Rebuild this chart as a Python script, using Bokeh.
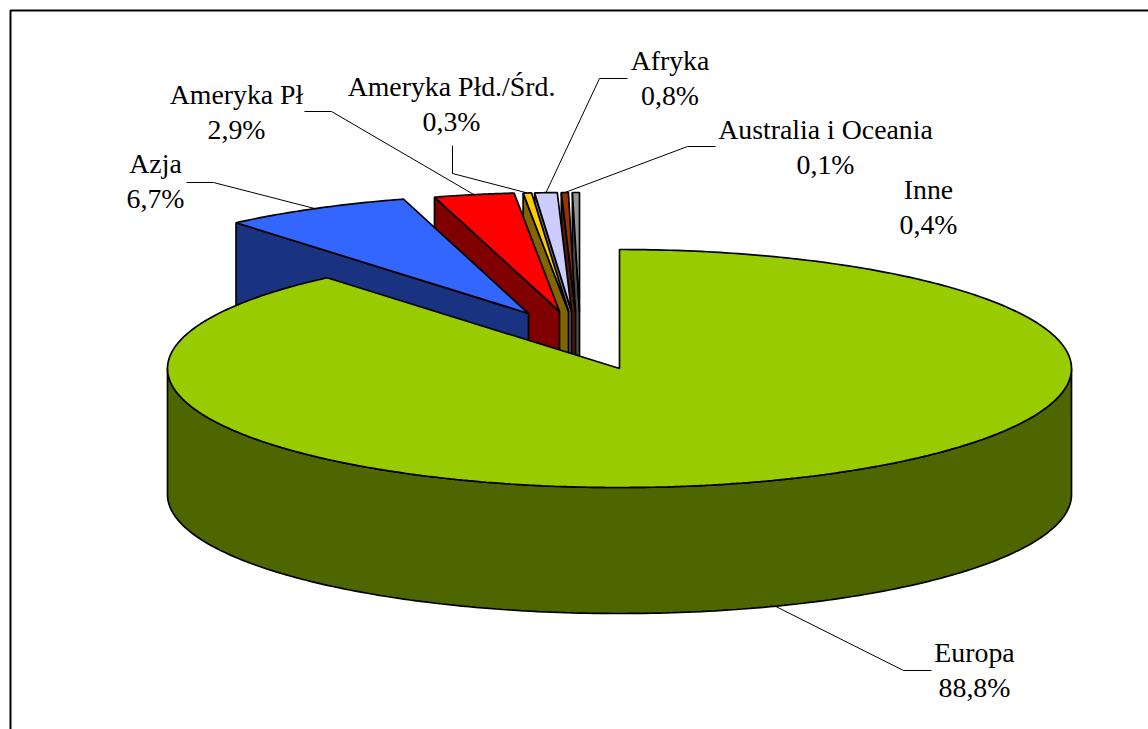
import numpy as np
from bokeh.embed import file_html
from bokeh.models import Range1d
from bokeh.plotting import figure
from bokeh.resources import INLINE

# Data
categories = ["Europa", "Azja", "Ameryka Pł", "Ameryka Płd./Śrd.", "Afryka", "Australia i Oceania", "Inne"]
share_labels = ["88,8%", "6,7%", "2,9%", "0,3%", "0,8%", "0,1%", "0,4%"]
# Slice sizes
shares = [88.8, 6.74, 2.86, 0.3, 0.8, 0.25, 0.25]

# Style
top_colors = ["#99CC00", "#3366FF", "#FF0000", "#FFCC00", "#CCCCFF", "#993300", "#969696"]
side_colors = ["#4D6600", "#1A3380", "#800000", "#806600", "#666680", "#4D1A00", "#4B4B4B"]

# Layout, in window pixels
W, H = 1148, 729
CX, CY, RX, RY, DEPTH = 619, 368, 452, 119, 126
explode_x = [0, -91, -60, -51, -48, -44, -40]
explode_y = [0, -55, -57, -57, -57, -57, -57]
label_x = [974, 155, 236, 451, 669.5, 825, 928]
label_y1 = [652, 163, 94, 86, 60, 129, 189]
LINE_GAP = 35
leader_start = [(931, 670), (186, 182), (304, 111), (452, 145), (627, 78), (715, 146), None]
leader_elbow = [(903, 670), (213, 182), (331, 111), (452, 173), (599, 78), (687, 146), None]

p = figure(width=W, height=H, output_backend="svg", toolbar_location=None,
           x_range=Range1d(0, W), y_range=Range1d(H, 0),
           min_border=0, outline_line_color=None)
p.axis.visible = False
p.grid.visible = False
p.background_fill_color = "white"
p.border_fill_color = "white"

# Frame running off the page on the right and below
p.line([10, 10, W], [H, 10, 10], line_color="black", line_width=2)


def rim(cx, cy, deg):
    a = np.radians(deg)
    return cx + RX * np.sin(a), cy - RY * np.cos(a)


edges = np.cumsum([0] + shares) / sum(shares) * 360.0
LW = 1.7

# Leader lines sit below the slices
for i, start in enumerate(leader_start):
    if start is None:
        continue
    mid = (edges[i] + edges[i + 1]) / 2
    mx, my = rim(CX + explode_x[i], CY + explode_y[i], mid)
    if i == 0:
        my += DEPTH
    p.line([start[0], leader_elbow[i][0], mx], [start[1], leader_elbow[i][1], my],
           line_color="black", line_width=1)

# Exploded slices, from the back right towards the front left
for i in range(len(shares) - 1, 0, -1):
    cx, cy = CX + explode_x[i], CY + explode_y[i]
    sx, sy = rim(cx, cy, edges[i])
    p.patch([sx, cx, cx, sx], [sy, cy, cy + DEPTH, sy + DEPTH],
            fill_color=side_colors[i], line_color="black", line_width=LW)
    ang = np.linspace(edges[i], edges[i + 1], 40)
    ax, ay = rim(cx, cy, ang)
    p.patch(np.r_[cx, ax], np.r_[cy, ay],
            fill_color=top_colors[i], line_color="black", line_width=LW)

# Europa: outer wall, then top
ang = np.linspace(90, 270, 200)
ax, ay = rim(CX, CY, ang)
p.patch(np.r_[ax, ax[::-1]], np.r_[ay, ay[::-1] + DEPTH],
        fill_color=side_colors[0], line_color="black", line_width=LW)
ang = np.linspace(edges[0], edges[1], 400)
ax, ay = rim(CX, CY, ang)
p.patch(np.r_[CX, ax], np.r_[CY, ay],
        fill_color=top_colors[0], line_color="black", line_width=LW)

# Labels
for i, name in enumerate(categories):
    for txt, y in ((name, label_y1[i]), (share_labels[i], label_y1[i] + LINE_GAP)):
        p.text(x=[label_x[i]], y=[y], text=[txt], text_align="center",
               text_baseline="alphabetic", text_font={"value": "Liberation Serif"},
               text_font_size="27.8px", text_color="black")

open("out.html", "w").write(file_html(p, INLINE))
